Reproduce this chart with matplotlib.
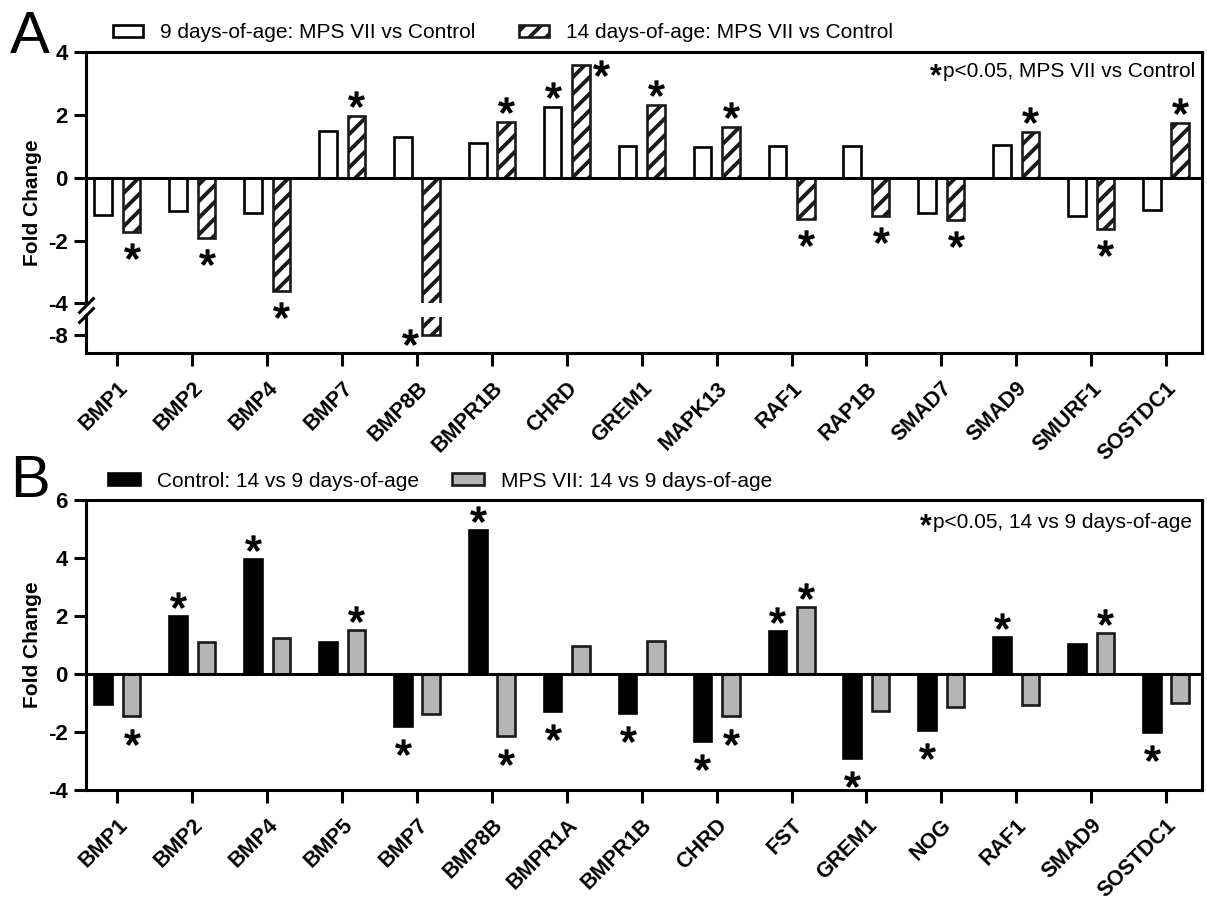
"""
fold change bar charts, MPS VII vs control (A) and 14 vs 9 days-of-age (B)
"""

import numpy as np
import matplotlib as mpl
mpl.use('Agg')
from matplotlib import pyplot as plt
from matplotlib.patches import Patch
from matplotlib.path import Path
import matplotlib.transforms as mtransforms

# ---- panel A data
genes_a = ['BMP1', 'BMP2', 'BMP4', 'BMP7', 'BMP8B', 'BMPR1B', 'CHRD', 'GREM1',
           'MAPK13', 'RAF1', 'RAP1B', 'SMAD7', 'SMAD9', 'SMURF1', 'SOSTDC1']
day9_a = [-1.20, -1.07, -1.14, 1.47, 1.30, 1.09, 2.24, 1.01,
          0.99, 1.01, 1.01, -1.12, 1.04, -1.23, -1.04]
day14_a = [-1.74, -1.93, -3.62, 1.95, -8.0, 1.76, 3.59, 2.32,
           1.60, -1.33, -1.23, -1.35, 1.44, -1.63, 1.74]
sig9_a = [0, 0, 0, 0, 0, 0, 1, 0, 0, 0, 0, 0, 0, 0, 0]
sig14_a = [1, 1, 1, 1, 1, 1, 1, 1, 1, 1, 1, 1, 1, 1, 1]

# ---- panel B data
genes_b = ['BMP1', 'BMP2', 'BMP4', 'BMP5', 'BMP7', 'BMP8B', 'BMPR1A', 'BMPR1B',
           'CHRD', 'FST', 'GREM1', 'NOG', 'RAF1', 'SMAD9', 'SOSTDC1']
ctrl_b = [-1.03, 2.00, 3.98, 1.11, -1.81, 4.96, -1.27, -1.35,
          -2.32, 1.47, -2.91, -1.92, 1.26, 1.05, -2.01]
mps_b = [-1.46, 1.11, 1.25, 1.51, -1.37, -2.15, 0.97, 1.13,
         -1.44, 2.30, -1.27, -1.14, -1.06, 1.42, -1.00]
sig_ctrl_b = [0, 1, 1, 0, 1, 1, 1, 1, 1, 1, 1, 1, 1, 0, 1]
sig_mps_b = [1, 0, 0, 1, 0, 1, 0, 0, 1, 1, 0, 0, 0, 1, 0]

# broken y axis of panel A
BRK_HI, BRK_LO, SHIFT = -4.0, -7.45, 3.0
GAP = BRK_HI - (BRK_LO + SHIFT)


def fwd(y):
    y = np.asarray(y, dtype=float)
    mid = BRK_HI - (BRK_HI - y) * GAP / (BRK_HI - BRK_LO)
    return np.where(y >= BRK_HI, y, np.where(y <= BRK_LO, y + SHIFT, mid))


def inv(u):
    u = np.asarray(u, dtype=float)
    mid = BRK_HI - (BRK_HI - u) * (BRK_HI - BRK_LO) / GAP
    return np.where(u >= BRK_HI, u, np.where(u <= BRK_HI - GAP, u - SHIFT, mid))


W, H = 1207, 899
plt.rcParams.update({'font.family': ['Liberation Sans', 'DejaVu Sans'],
                     'axes.unicode_minus': False,
                     'hatch.linewidth': 2.8,
                     'mathtext.fontset': 'custom',
                     'mathtext.rm': 'Liberation Sans',
                     'axes.linewidth': 2.2})

fig = plt.figure(figsize=(W / 100, H / 100), dpi=100)
axA = fig.add_axes([86 / W, 1 - 353 / H, (1202 - 86) / W, (353 - 52) / H])
axB = fig.add_axes([86 / W, 1 - 790 / H, (1202 - 86) / W, (790 - 500) / H])

OFF, BW, ELW = 0.19, 0.235, 1.9


def style_axes(ax, genes, yticks):
    x = np.arange(len(genes))
    ax.set_xlim(-0.42, len(genes) - 0.52)
    ax.set_xticks(x, genes, rotation=45, ha='right', va='top',
                  rotation_mode='anchor', fontsize=15.5, fontweight='bold')
    ax.set_yticks(yticks, [str(t) for t in yticks], fontsize=16, fontweight='bold')
    ax.tick_params(axis='both', length=9, width=2.2, pad=4)
    ax.tick_params(axis='x', pad=9)
    ax.axhline(0, color='black', lw=2.2, zorder=2)
    ax.set_ylabel('Fold Change', fontsize=15, fontweight='bold')
    ax.yaxis.set_label_coords(-0.039, 0.5)


def add_stars(ax, xs, vals, flags, up, down, nudge=None):
    nudge = nudge or {}
    for i, (x, v, f) in enumerate(zip(xs, vals, flags)):
        if not f:
            continue
        dx, dy = nudge.get(i, (0, up if v >= 0 else -down))
        tr = mtransforms.offset_copy(ax.transData, fig=fig, x=dx, y=dy, units='dots')
        ax.plot([x], [v], ls='none', marker='$*$', ms=11, color='black',
                transform=tr, clip_on=False, zorder=4)


def sig_note(ax, xr, yc, text):
    t = ax.text(xr, yc, text, transform=ax.transAxes, ha='right', va='center', fontsize=15)
    ax.annotate('*', xy=(0, 0.5), xycoords=t, xytext=(-1, -4), textcoords='offset points',
                ha='right', va='center', fontsize=22, fontweight='bold')


# ---- panel A
xa = np.arange(len(genes_a))
axA.set_yscale('function', functions=(fwd, inv))
axA.bar(xa - OFF, day9_a, BW, facecolor='white', edgecolor='black', lw=ELW)
axA.bar(xa + OFF, day14_a, BW, facecolor='white', edgecolor='#1a1a1a', hatch='//', lw=ELW)
axA.set_ylim(-8.58, 4)
style_axes(axA, genes_a, [-8, -4, -2, 0, 2, 4])
axA.axhspan(BRK_LO, BRK_HI, facecolor='white', edgecolor='none', zorder=1.5)

# break marks on the y axis
ymid = (BRK_HI + BRK_LO) / 2
gap_path = Path([(0, -4), (0, 4)], [Path.MOVETO, Path.LINETO])
slash_path = Path([(-8, -3), (8, 13), (-8, -13), (8, 3)],
                  [Path.MOVETO, Path.LINETO, Path.MOVETO, Path.LINETO])
axA.plot([0], [ymid], marker=gap_path, ms=5.8, mew=4, color='white',
         transform=axA.get_yaxis_transform(), clip_on=False, zorder=3)
axA.plot([0], [ymid], marker=slash_path, ms=18.7, mew=2.2, color='black', mfc='none',
         transform=axA.get_yaxis_transform(), clip_on=False, zorder=3.1)

add_stars(axA, xa - OFF, day9_a, sig9_a, 17, 19)
add_stars(axA, xa + OFF, day14_a, sig14_a, 17, 19,
          nudge={genes_a.index('CHRD'): (20, -3), genes_a.index('BMP8B'): (-21, -2)})

axA.legend(handles=[Patch(facecolor='white', edgecolor='black', lw=ELW,
                          label='9 days-of-age: MPS VII vs Control'),
                    Patch(facecolor='white', edgecolor='#1a1a1a', hatch='//', lw=ELW,
                          label='14 days-of-age: MPS VII vs Control')],
           loc='center left', bbox_to_anchor=(113 / W, 1 - 33 / H),
           bbox_transform=fig.transFigure, ncol=2, frameon=False, fontsize=15,
           handlelength=1.44, handleheight=0.53, handletextpad=0.82,
           columnspacing=2.1, borderpad=0, borderaxespad=0)
sig_note(axA, 0.9937, 0.934, 'p<0.05, MPS VII vs Control')

# ---- panel B
xb = np.arange(len(genes_b))
axB.bar(xb - OFF, ctrl_b, BW, facecolor='black', edgecolor='black', lw=ELW)
axB.bar(xb + OFF, mps_b, BW, facecolor='#b5b5b5', edgecolor='#1a1a1a', lw=ELW)
axB.set_ylim(-4, 6)
style_axes(axB, genes_b, [-4, -2, 0, 2, 4, 6])
add_stars(axB, xb - OFF, ctrl_b, sig_ctrl_b, 16, 21)
add_stars(axB, xb + OFF, mps_b, sig_mps_b, 16, 21)

axB.legend(handles=[Patch(facecolor='black', edgecolor='black', lw=ELW,
                          label='Control: 14 vs 9 days-of-age'),
                    Patch(facecolor='#b5b5b5', edgecolor='#1a1a1a', lw=ELW,
                          label='MPS VII: 14 vs 9 days-of-age')],
           loc='center left', bbox_to_anchor=(108 / W, 1 - 481 / H),
           bbox_transform=fig.transFigure, ncol=2, frameon=False, fontsize=15,
           handlelength=1.54, handleheight=0.48, handletextpad=0.8,
           columnspacing=1.6, borderpad=0, borderaxespad=0)
sig_note(axB, 0.991, 0.924, 'p<0.05, 14 vs 9 days-of-age')

fig.text(10 / W, 1 - 53 / H, 'A', fontsize=43, ha='left', va='baseline')
fig.text(10 / W, 1 - 497 / H, 'B', fontsize=43, ha='left', va='baseline')

fig.savefig('out.png', dpi=100)
